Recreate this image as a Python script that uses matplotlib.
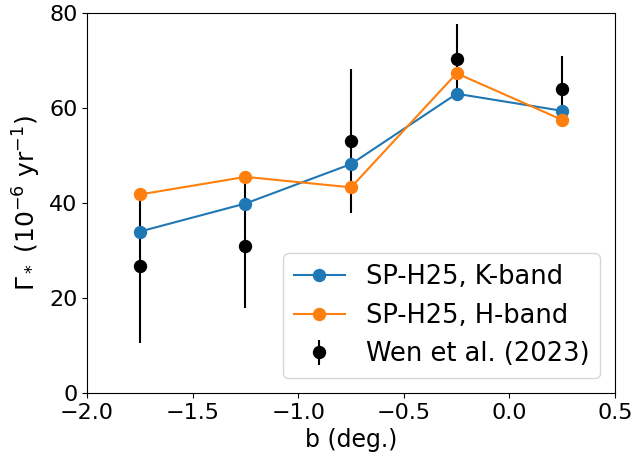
import matplotlib
matplotlib.use('Agg')
import matplotlib.pyplot as plt

B=[-1.75,-1.25,-0.75,-0.25,0.25]
K_BAND=[34.0,39.9,48.2,63.0,59.4]
H_BAND=[41.8,45.5,43.3,67.3,57.5]
WEN=[26.7,31.0,53.1,70.4,64.1]
WEN_ERR=[16.1,13.0,15.1,7.3,6.9]

plt.rcParams['font.size']=16

fig,ax=plt.subplots(figsize=(6.36,4.63),dpi=100)
fig.subplots_adjust(left=0.137,right=0.967,top=0.972,bottom=0.151)

ax.errorbar(B,WEN,yerr=WEN_ERR,fmt='o',color='k',ms=8.6,
            elinewidth=1.5,label='Wen et al. (2023)')
ax.plot(B,K_BAND,'o-',color='C0',ms=8.6,label='SP-H25, K-band')
ax.plot(B,H_BAND,'o-',color='C1',ms=8.6,label='SP-H25, H-band')

ax.set_xlim(-2.0,0.5)
ax.set_ylim(0,80)
ax.set_yticks([0,20,40,60,80])
ax.set_xlabel('b (deg.)',fontsize=17)
ax.set_ylabel(r'$\Gamma_*$ (10$^{-6}$ yr$^{-1}$)',fontsize=18)
ax.legend(loc='lower right',fontsize=18.5,borderaxespad=0.6)

fig.savefig('out.png',dpi=100)
